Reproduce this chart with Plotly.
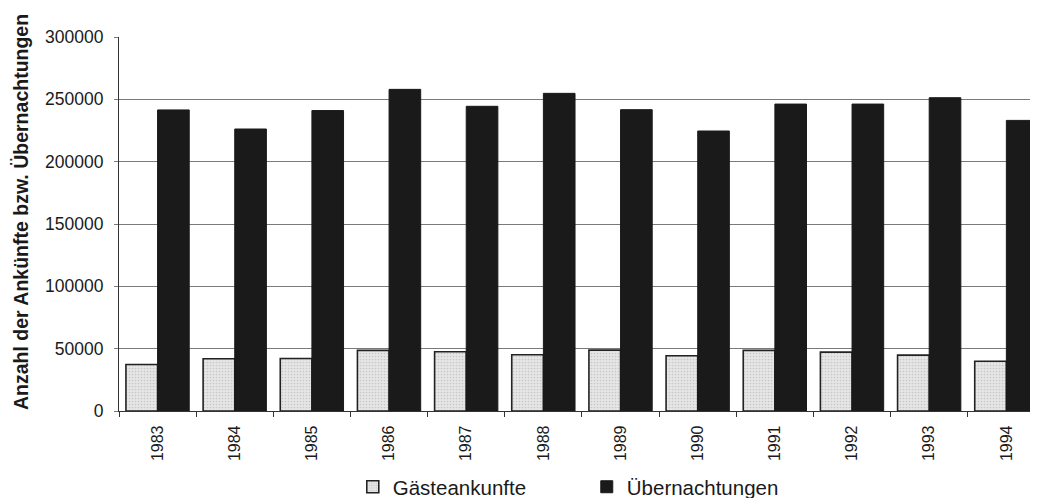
import plotly.graph_objects as go

years = ["1983", "1984", "1985", "1986", "1987", "1988",
         "1989", "1990", "1991", "1992", "1993", "1994"]
gaesteankunfte = [37300, 41900, 42100, 48600, 47500, 45100,
                  48800, 44300, 48600, 47200, 44800, 39900]
uebernachtungen = [241500, 226200, 241000, 258000, 244400, 254800,
                   241700, 224600, 246200, 246200, 251300, 233100]
y_ticks = [0, 50000, 100000, 150000, 200000, 250000, 300000]
y_title = "Anzahl der Ankünfte bzw. Übernachtungen"

font_family = "Liberation Sans, Arial, Helvetica, sans-serif"

fig = go.Figure()
fig.add_trace(go.Bar(
    x=years, y=gaesteankunfte, name="Gästeankunfte",
    marker=dict(color="#e2e2e2", line=dict(color="#222", width=1.6),
                pattern=dict(shape=".", fgcolor="#a8a8a8", bgcolor="#e6e6e6",
                             size=3, solidity=0.25)),
))
fig.add_trace(go.Bar(
    x=years, y=uebernachtungen, name="Übernachtungen",
    marker=dict(color="#1a1a1a", line=dict(color="#1a1a1a", width=1)),
))

fig.update_layout(
    width=1038, height=498,
    margin=dict(l=111, r=8, t=29, b=95, autoexpand=False),
    paper_bgcolor="white", plot_bgcolor="white",
    barmode="group", bargap=0.18, bargroupgap=0,
    font=dict(family=font_family, color="#1a1a1a"),
    showlegend=True,
    legend=dict(orientation="h", x=0.509, xanchor="center",
                y=-0.203, yanchor="middle",
                font=dict(size=20.5, color="#1a1a1a"),
                itemwidth=30, entrywidth=189),
    annotations=[dict(
        text="<b>" + y_title + "</b>", textangle=-90,
        xref="paper", yref="paper", x=0, y=0.532,
        xanchor="center", yanchor="middle", xshift=-98,
        showarrow=False, font=dict(size=19.5, color="#1a1a1a"),
    )],
)
fig.update_xaxes(
    type="category", range=[-0.5, 11.41], automargin=False,
    showline=True, linecolor="#333", linewidth=1.2,
    ticks="outside", ticklen=5, tickcolor="#333", tickson="boundaries",
    tickangle=-90, tickfont=dict(size=16, color="#1a1a1a"),
    ticklabelstandoff=7,
    showgrid=False,
)
fig.update_yaxes(
    range=[0, 300000], tickvals=y_ticks, automargin=False,
    ticktext=[str(v) for v in y_ticks],
    showline=True, linecolor="#333", linewidth=1.2,
    ticks="outside", ticklen=4, tickcolor="#7a7a7a",
    ticklabelstandoff=7,
    showgrid=True, gridcolor="#7a7a7a", gridwidth=1,
    tickfont=dict(size=17.5, color="#1a1a1a"),
    zeroline=False,
)

fig.write_html("out.html")
